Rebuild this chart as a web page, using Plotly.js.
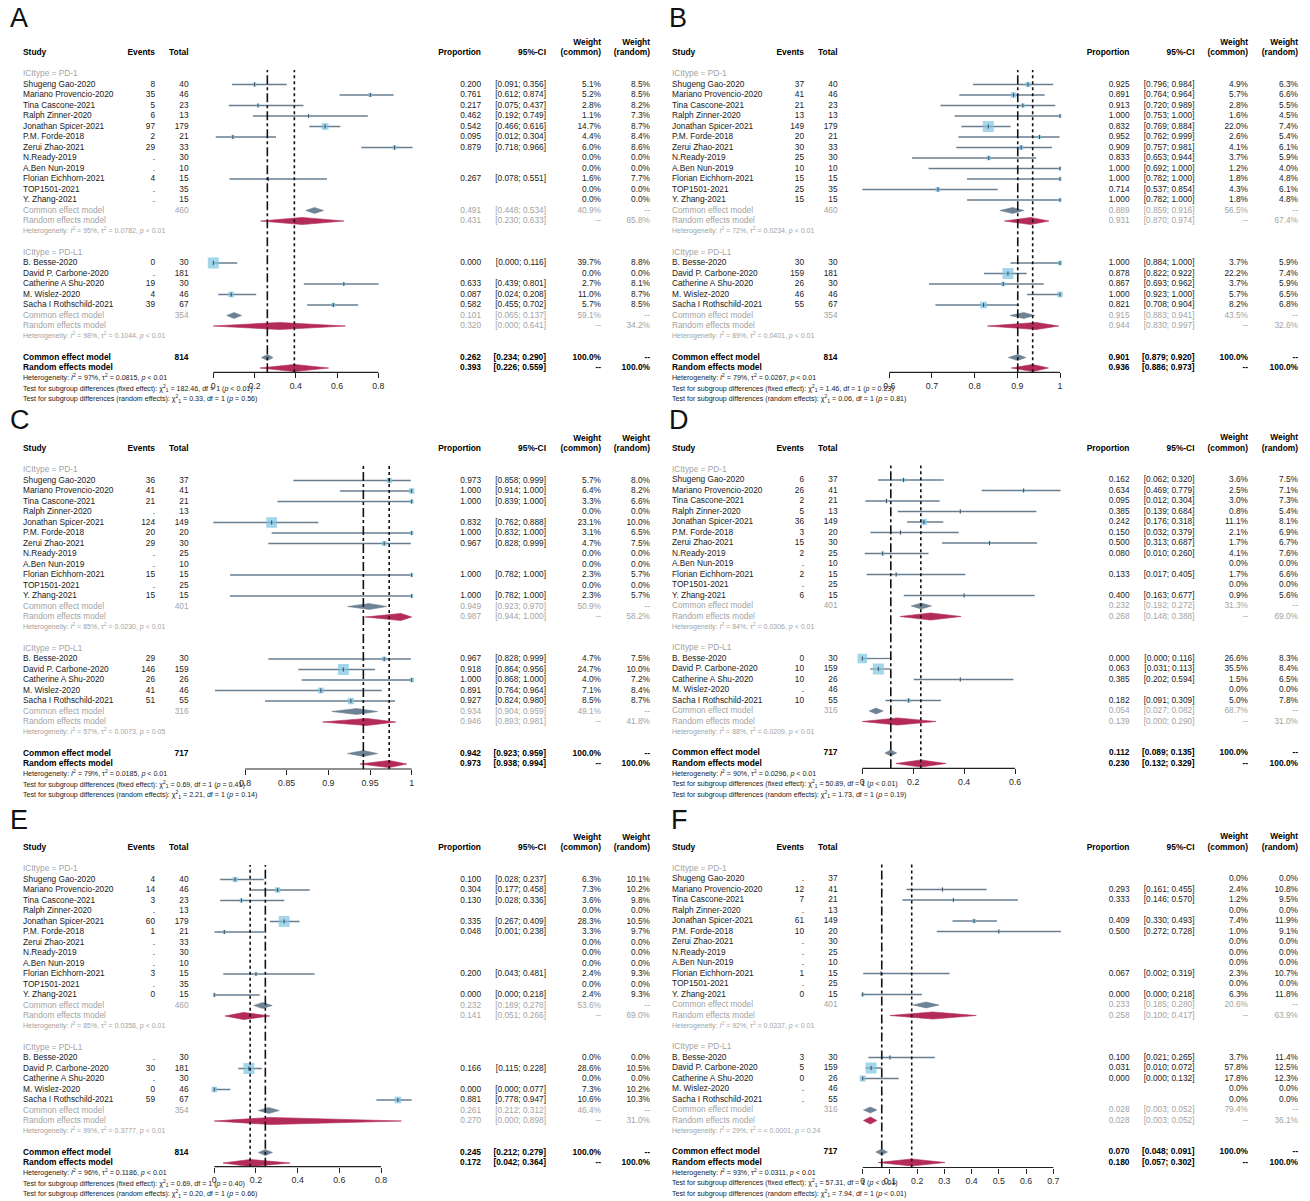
<!DOCTYPE html>
<html>
<head>
<meta charset="utf-8">
<script src="https://cdn.plot.ly/plotly-3.0.1.min.js"></script>
<style>
html, body { margin: 0; padding: 0; background: #ffffff; }
#chart { width: 1310px; height: 1201px; }
</style>
</head>
<body>
<div id="chart"></div>
<script>
// ---------------- data ----------------
const studiesPD1 = ["Shugeng Gao-2020", "Mariano Provencio-2020", "Tina Cascone-2021", "Ralph Zinner-2020",
  "Jonathan Spicer-2021", "P.M. Forde-2018", "Zerui Zhao-2021", "N.Ready-2019", "A.Ben Nun-2019",
  "Florian Eichhorn-2021", "TOP1501-2021", "Y. Zhang-2021"];
const studiesPDL1 = ["B. Besse-2020", "David P. Carbone-2020", "Catherine A Shu-2020", "M. Wislez-2020",
  "Sacha I Rothschild-2021"];
const subgroupLabels = ["ICItype = PD-1", "ICItype = PD-L1"];

const totalsABE = [40, 46, 23, 13, 179, 21, 33, 30, 10, 15, 35, 15, 30, 181, 30, 46, 67];
const totalsCDF = [37, 41, 21, 13, 149, 20, 30, 25, 10, 15, 25, 15, 30, 159, 26, 46, 55];

// pooled arrays: [PD-1 common, PD-1 random, PD-L1 common, PD-L1 random, overall common, overall random]
// heterogeneity arrays: [PD-1, PD-L1, overall]; subgroup tests: [fixed, random]

// Panel A
const eventsA = [8, 35, 5, 6, 97, 2, 29, null, null, 4, null, null, 0, null, 19, 4, 39];
const propA  = [0.200, 0.761, 0.217, 0.462, 0.542, 0.095, 0.879, null, null, 0.267, null, null, 0.000, null, 0.633, 0.087, 0.582];
const lowerA = [0.091, 0.612, 0.075, 0.192, 0.466, 0.012, 0.718, null, null, 0.078, null, null, 0.000, null, 0.439, 0.024, 0.455];
const upperA = [0.356, 0.874, 0.437, 0.749, 0.616, 0.304, 0.966, null, null, 0.551, null, null, 0.116, null, 0.801, 0.208, 0.702];
const wCommonA = [5.1, 5.2, 2.8, 1.1, 14.7, 4.4, 6.0, 0, 0, 1.6, 0, 0, 39.7, 0, 2.7, 11.0, 5.7];
const wRandomA = [8.5, 8.5, 8.2, 7.3, 8.7, 8.4, 8.6, 0, 0, 7.7, 0, 0, 8.8, 0, 8.1, 8.7, 8.5];
const pooledA = [0.491, 0.431, 0.101, 0.320, 0.262, 0.393];
const pooledLowA = [0.448, 0.230, 0.065, 0.000, 0.234, 0.226];
const pooledHighA = [0.534, 0.633, 0.137, 0.641, 0.290, 0.559];
const pooledWeightA = [40.9, 65.8, 59.1, 34.2, 100, 100];
const hetI2A = [95, 98, 97];
const hetTau2A = ["0.0782", "0.1044", "0.0815"];
const hetPA = ["< 0.01", "< 0.01", "< 0.01"];
const chiA = ["182.46", "0.33"];
const chiPA = ["< 0.01", "= 0.56"];

// Panel B
const eventsB = [37, 41, 21, 13, 149, 20, 30, 25, 10, 15, 25, 15, 30, 159, 26, 46, 55];
const propB  = [0.925, 0.891, 0.913, 1.000, 0.832, 0.952, 0.909, 0.833, 1.000, 1.000, 0.714, 1.000, 1.000, 0.878, 0.867, 1.000, 0.821];
const lowerB = [0.796, 0.764, 0.720, 0.753, 0.769, 0.762, 0.757, 0.653, 0.692, 0.782, 0.537, 0.782, 0.884, 0.822, 0.693, 0.923, 0.708];
const upperB = [0.984, 0.964, 0.989, 1.000, 0.884, 0.999, 0.981, 0.944, 1.000, 1.000, 0.854, 1.000, 1.000, 0.922, 0.962, 1.000, 0.904];
const wCommonB = [4.9, 5.7, 2.8, 1.6, 22.0, 2.6, 4.1, 3.7, 1.2, 1.8, 4.3, 1.8, 3.7, 22.2, 3.7, 5.7, 8.2];
const wRandomB = [6.3, 6.6, 5.5, 4.5, 7.4, 5.4, 6.1, 5.9, 4.0, 4.8, 6.1, 4.8, 5.9, 7.4, 5.9, 6.5, 6.8];
const pooledB = [0.889, 0.931, 0.915, 0.944, 0.901, 0.936];
const pooledLowB = [0.859, 0.870, 0.883, 0.830, 0.879, 0.886];
const pooledHighB = [0.916, 0.974, 0.941, 0.997, 0.920, 0.973];
const pooledWeightB = [56.5, 67.4, 43.5, 32.6, 100, 100];
const hetI2B = [72, 89, 79];
const hetTau2B = ["0.0234", "0.0401", "0.0267"];
const hetPB = ["< 0.01", "< 0.01", "< 0.01"];
const chiB = ["1.46", "0.06"];
const chiPB = ["= 0.23", "= 0.81"];

// Panel C
const eventsC = [36, 41, 21, null, 124, 20, 29, null, null, 15, null, 15, 29, 146, 26, 41, 51];
const propC  = [0.973, 1.000, 1.000, null, 0.832, 1.000, 0.967, null, null, 1.000, null, 1.000, 0.967, 0.918, 1.000, 0.891, 0.927];
const lowerC = [0.858, 0.914, 0.839, null, 0.762, 0.832, 0.828, null, null, 0.782, null, 0.782, 0.828, 0.864, 0.868, 0.764, 0.824];
const upperC = [0.999, 1.000, 1.000, null, 0.888, 1.000, 0.999, null, null, 1.000, null, 1.000, 0.999, 0.956, 1.000, 0.964, 0.980];
const wCommonC = [5.7, 6.4, 3.3, 0, 23.1, 3.1, 4.7, 0, 0, 2.3, 0, 2.3, 4.7, 24.7, 4.0, 7.1, 8.5];
const wRandomC = [8.0, 8.2, 6.6, 0, 10.0, 6.5, 7.5, 0, 0, 5.7, 0, 5.7, 7.5, 10.0, 7.2, 8.4, 8.7];
const pooledC = [0.949, 0.987, 0.934, 0.946, 0.942, 0.973];
const pooledLowC = [0.923, 0.944, 0.904, 0.893, 0.923, 0.938];
const pooledHighC = [0.970, 1.000, 0.959, 0.981, 0.959, 0.994];
const pooledWeightC = [50.9, 58.2, 49.1, 41.8, 100, 100];
const hetI2C = [85, 57, 79];
const hetTau2C = ["0.0230", "0.0073", "0.0185"];
const hetPC = ["< 0.01", "= 0.05", "< 0.01"];
const chiC = ["0.69", "2.21"];
const chiPC = ["= 0.41", "= 0.14"];

// Panel D
const eventsD = [6, 26, 2, 5, 36, 3, 15, 2, null, 2, null, 6, 0, 10, 10, null, 10];
const propD  = [0.162, 0.634, 0.095, 0.385, 0.242, 0.150, 0.500, 0.080, null, 0.133, null, 0.400, 0.000, 0.063, 0.385, null, 0.182];
const lowerD = [0.062, 0.469, 0.012, 0.139, 0.176, 0.032, 0.313, 0.010, null, 0.017, null, 0.163, 0.000, 0.031, 0.202, null, 0.091];
const upperD = [0.320, 0.779, 0.304, 0.684, 0.318, 0.379, 0.687, 0.260, null, 0.405, null, 0.677, 0.116, 0.113, 0.594, null, 0.309];
const wCommonD = [3.6, 2.5, 3.0, 0.8, 11.1, 2.1, 1.7, 4.1, 0, 1.7, 0, 0.9, 26.6, 35.5, 1.5, 0, 5.0];
const wRandomD = [7.5, 7.1, 7.3, 5.4, 8.1, 6.9, 6.7, 7.6, 0, 6.6, 0, 5.6, 8.3, 8.4, 6.5, 0, 7.8];
const pooledD = [0.232, 0.268, 0.054, 0.139, 0.112, 0.230];
const pooledLowD = [0.192, 0.148, 0.027, 0.000, 0.089, 0.132];
const pooledHighD = [0.272, 0.388, 0.082, 0.290, 0.135, 0.329];
const pooledWeightD = [31.3, 69.0, 68.7, 31.0, 100, 100];
const hetI2D = [84, 88, 90];
const hetTau2D = ["0.0306", "0.0209", "0.0296"];
const hetPD = ["< 0.01", "< 0.01", "< 0.01"];
const chiD = ["50.89", "1.73"];
const chiPD = ["< 0.01", "= 0.19"];

// Panel E
const eventsE = [4, 14, 3, null, 60, 1, null, null, null, 3, null, 0, null, 30, null, 0, 59];
const propE  = [0.100, 0.304, 0.130, null, 0.335, 0.048, null, null, null, 0.200, null, 0.000, null, 0.166, null, 0.000, 0.881];
const lowerE = [0.028, 0.177, 0.028, null, 0.267, 0.001, null, null, null, 0.043, null, 0.000, null, 0.115, null, 0.000, 0.778];
const upperE = [0.237, 0.458, 0.336, null, 0.409, 0.238, null, null, null, 0.481, null, 0.218, null, 0.228, null, 0.077, 0.947];
const wCommonE = [6.3, 7.3, 3.6, 0, 28.3, 3.3, 0, 0, 0, 2.4, 0, 2.4, 0, 28.6, 0, 7.3, 10.6];
const wRandomE = [10.1, 10.2, 9.8, 0, 10.5, 9.7, 0, 0, 0, 9.3, 0, 9.3, 0, 10.5, 0, 10.2, 10.3];
const pooledE = [0.232, 0.141, 0.261, 0.270, 0.245, 0.172];
const pooledLowE = [0.189, 0.051, 0.212, 0.000, 0.212, 0.042];
const pooledHighE = [0.278, 0.266, 0.312, 0.898, 0.279, 0.364];
const pooledWeightE = [53.6, 69.0, 46.4, 31.0, 100, 100];
const hetI2E = [85, 99, 96];
const hetTau2E = ["0.0358", "0.3777", "0.1186"];
const hetPE = ["< 0.01", "< 0.01", "< 0.01"];
const chiE = ["0.69", "0.20"];
const chiPE = ["= 0.40", "= 0.66"];

// Panel F
const eventsF = [null, 12, 7, null, 61, 10, null, null, null, 1, null, 0, 3, 5, 0, null, null];
const propF  = [null, 0.293, 0.333, null, 0.409, 0.500, null, null, null, 0.067, null, 0.000, 0.100, 0.031, 0.000, null, null];
const lowerF = [null, 0.161, 0.146, null, 0.330, 0.272, null, null, null, 0.002, null, 0.000, 0.021, 0.010, 0.000, null, null];
const upperF = [null, 0.455, 0.570, null, 0.493, 0.728, null, null, null, 0.319, null, 0.218, 0.265, 0.072, 0.132, null, null];
const wCommonF = [0, 2.4, 1.2, 0, 7.4, 1.0, 0, 0, 0, 2.3, 0, 6.3, 3.7, 57.8, 17.8, 0, 0];
const wRandomF = [0, 10.8, 9.5, 0, 11.9, 9.1, 0, 0, 0, 10.7, 0, 11.8, 11.4, 12.5, 12.3, 0, 0];
const pooledF = [0.233, 0.258, 0.028, 0.028, 0.070, 0.180];
const pooledLowF = [0.185, 0.100, 0.003, 0.003, 0.048, 0.057];
const pooledHighF = [0.280, 0.417, 0.052, 0.052, 0.091, 0.302];
const pooledWeightF = [20.6, 63.9, 79.4, 36.1, 100, 100];
const hetI2F = [92, 29, 93];
const hetTau2F = ["0.0337", "< 0.0001", "0.0311"];
const hetPF = ["< 0.01", "= 0.24", "< 0.01"];
const chiF = ["57.31", "7.94"];
const chiPF = ["< 0.01", "< 0.01"];

// axis ticks
const ticksA = [0, 0.2, 0.4, 0.6, 0.8];          const tickLabelsA = ["0", "0.2", "0.4", "0.6", "0.8"];
const ticksB = [0.6, 0.7, 0.8, 0.9, 1];          const tickLabelsB = ["0.6", "0.7", "0.8", "0.9", "1"];
const ticksC = [0.8, 0.85, 0.9, 0.95, 1];        const tickLabelsC = ["0.8", "0.85", "0.9", "0.95", "1"];
const ticksD = [0, 0.2, 0.4, 0.6];               const tickLabelsD = ["0", "0.2", "0.4", "0.6"];
const ticksE = [0, 0.2, 0.4, 0.6, 0.8];          const tickLabelsE = ["0", "0.2", "0.4", "0.6", "0.8"];
const ticksF = [0, 0.1, 0.2, 0.3, 0.4, 0.5, 0.6, 0.7];
const tickLabelsF = ["0", "0.1", "0.2", "0.3", "0.4", "0.5", "0.6", "0.7"];

// ---------------- layout settings ----------------
const W = 1310, H = 1201, ROW = 10.5;
const FONT = "Liberation Sans, Arial, Helvetica, sans-serif";
const COLORS = {
  text: "#1a1a1a", gray: "#a3a3a3", ci: "#687e90", square: "#7cc4e2", tick: "#3a4a58",
  common: "#6d8294", random: "#b42a5b", axis: "#222222"
};
const COLS_L = { study: 23, events: 155, total: 188.5, prop: 481, ci: 546, wc: 601, wr: 650 };
const COLS_R = { study: 672, events: 804, total: 837.5, prop: 1129.5, ci: 1194.5, wc: 1248, wr: 1298 };

const panels = [
  { letter: "A", letterPos: [10, 20], row0: 74, axisY: 372.3, plotPx: [200, 422], tickPx: [213.3, 378.3], cols: COLS_L,
    totals: totalsABE, events: eventsA, prop: propA, lower: lowerA, upper: upperA, wc: wCommonA, wr: wRandomA,
    pooled: pooledA, pLow: pooledLowA, pHigh: pooledHighA, pW: pooledWeightA,
    i2: hetI2A, tau2: hetTau2A, hp: hetPA, chi: chiA, chiP: chiPA, ticks: ticksA, tickLabels: tickLabelsA },
  { letter: "B", letterPos: [669, 20], row0: 74, axisY: 372.3, plotPx: [852, 1066], tickPx: [889.3, 1060], cols: COLS_R,
    totals: totalsABE, events: eventsB, prop: propB, lower: lowerB, upper: upperB, wc: wCommonB, wr: wRandomB,
    pooled: pooledB, pLow: pooledLowB, pHigh: pooledHighB, pW: pooledWeightB,
    i2: hetI2B, tau2: hetTau2B, hp: hetPB, chi: chiB, chiP: chiPB, ticks: ticksB, tickLabels: tickLabelsB },
  { letter: "C", letterPos: [10, 422], row0: 470, axisY: 769, plotPx: [200, 422], tickPx: [245, 411.7], cols: COLS_L,
    totals: totalsCDF, events: eventsC, prop: propC, lower: lowerC, upper: upperC, wc: wCommonC, wr: wRandomC,
    pooled: pooledC, pLow: pooledLowC, pHigh: pooledHighC, pW: pooledWeightC,
    i2: hetI2C, tau2: hetTau2C, hp: hetPC, chi: chiC, chiP: chiPC, ticks: ticksC, tickLabels: tickLabelsC },
  { letter: "D", letterPos: [669, 422], row0: 469.5, axisY: 768.3, plotPx: [852, 1066], tickPx: [862.3, 1015], cols: COLS_R,
    totals: totalsCDF, events: eventsD, prop: propD, lower: lowerD, upper: upperD, wc: wCommonD, wr: wRandomD,
    pooled: pooledD, pLow: pooledLowD, pHigh: pooledHighD, pW: pooledWeightD,
    i2: hetI2D, tau2: hetTau2D, hp: hetPD, chi: chiD, chiP: chiPD, ticks: ticksD, tickLabels: tickLabelsD },
  { letter: "E", letterPos: [10, 822], row0: 869, axisY: 1166.7, plotPx: [200, 422], tickPx: [214.3, 381], cols: COLS_L,
    totals: totalsABE, events: eventsE, prop: propE, lower: lowerE, upper: upperE, wc: wCommonE, wr: wRandomE,
    pooled: pooledE, pLow: pooledLowE, pHigh: pooledHighE, pW: pooledWeightE,
    i2: hetI2E, tau2: hetTau2E, hp: hetPE, chi: chiE, chiP: chiPE, ticks: ticksE, tickLabels: tickLabelsE },
  { letter: "F", letterPos: [671, 822], row0: 868.5, axisY: 1167.5, plotPx: [852, 1066], tickPx: [862.7, 1053.3], cols: COLS_R,
    totals: totalsCDF, events: eventsF, prop: propF, lower: lowerF, upper: upperF, wc: wCommonF, wr: wRandomF,
    pooled: pooledF, pLow: pooledLowF, pHigh: pooledHighF, pW: pooledWeightF,
    i2: hetI2F, tau2: hetTau2F, hp: hetPF, chi: chiF, chiP: chiPF, ticks: ticksF, tickLabels: tickLabelsF }
];

// row index of every study (PD-1 rows 1..12, PD-L1 rows 18..22)
const studyRows = studiesPD1.map((_, i) => 1 + i).concat(studiesPDL1.map((_, i) => 18 + i));
const studyNames = studiesPD1.concat(studiesPDL1);
const pooledRows = [13, 14, 23, 24, 27, 28];

const fmt3 = v => v.toFixed(3);
const pct = v => v.toFixed(1) + "%";
const ciText = (lo, hi) => "[" + fmt3(lo) + "; " + fmt3(hi) + "]";
const hetText = (i2, tau2, p) =>
  "Heterogeneity: <i>I</i><sup>2</sup> = " + i2 + "%, τ<sup>2</sup> = " + tau2 + ", <i>p</i> " + p;
const testText = (kind, chi, p) =>
  "Test for subgroup differences (" + kind + "): χ<sup>2</sup><sub>1</sub> = " + chi + ", df = 1 (<i>p</i> " + p + ")";

// ---------------- text items ----------------
const textItems = [];
function addText(x, y, text, style, align) { textItems.push({ x, y, text, style, align }); }

const traces = [];
const shapes = [];
const layout = {
  width: W, height: H, autosize: false,
  margin: { l: 0, r: 0, t: 0, b: 0, pad: 0 },
  paper_bgcolor: "#ffffff", plot_bgcolor: "rgba(0,0,0,0)",
  showlegend: false, hovermode: false,
  font: { family: FONT, color: COLORS.text }
};

panels.forEach((p, k) => {
  const n = k + 1;
  const xa = "x" + n, ya = "y" + n;
  const rowY = r => p.row0 + r * ROW;
  const c = p.cols;

  // --- header ---
  addText(c.study, rowY(-2), "Study", "bold", "left");
  addText(c.events, rowY(-2), "Events", "bold", "right");
  addText(c.total, rowY(-2), "Total", "bold", "right");
  addText(c.prop, rowY(-2), "Proportion", "bold", "right");
  addText(c.ci, rowY(-2), "95%-CI", "bold", "right");
  addText(c.wc, rowY(-3), "Weight", "bold", "right");
  addText(c.wr, rowY(-3), "Weight", "bold", "right");
  addText(c.wc, rowY(-2), "(common)", "bold", "right");
  addText(c.wr, rowY(-2), "(random)", "bold", "right");
  addText(p.letterPos[0], p.letterPos[1], p.letter, "letter", "left");

  // --- study rows ---
  studyNames.forEach((name, i) => {
    const y = rowY(studyRows[i]);
    addText(c.study, y, name, "main", "left");
    addText(c.events, y, p.events[i] === null ? "." : String(p.events[i]), "main", "right");
    addText(c.total, y, String(p.totals[i]), "main", "right");
    if (p.prop[i] !== null) {
      addText(c.prop, y, fmt3(p.prop[i]), "main", "right");
      addText(c.ci, y, ciText(p.lower[i], p.upper[i]), "main", "right");
    }
    addText(c.wc, y, pct(p.wc[i]), "main", "right");
    addText(c.wr, y, pct(p.wr[i]), "main", "right");
  });

  // --- subgroup blocks ---
  const groupTotals = [
    p.totals.slice(0, 12).reduce((a, b) => a + b, 0),
    p.totals.slice(12).reduce((a, b) => a + b, 0)
  ];
  [0, 1].forEach(g => {
    const base = g === 0 ? 0 : 17;
    addText(c.study, rowY(base), subgroupLabels[g], "gray", "left");
    const ic = 2 * g, ir = 2 * g + 1;
    const yc = rowY(pooledRows[ic]), yr = rowY(pooledRows[ir]);
    addText(c.study, yc, "Common effect model", "gray", "left");
    addText(c.total, yc, String(groupTotals[g]), "gray", "right");
    addText(c.prop, yc, fmt3(p.pooled[ic]), "gray", "right");
    addText(c.ci, yc, ciText(p.pLow[ic], p.pHigh[ic]), "gray", "right");
    addText(c.wc, yc, pct(p.pW[ic]), "gray", "right");
    addText(c.wr, yc, "--", "gray", "right");
    addText(c.study, yr, "Random effects model", "gray", "left");
    addText(c.prop, yr, fmt3(p.pooled[ir]), "gray", "right");
    addText(c.ci, yr, ciText(p.pLow[ir], p.pHigh[ir]), "gray", "right");
    addText(c.wc, yr, "--", "gray", "right");
    addText(c.wr, yr, pct(p.pW[ir]), "gray", "right");
    addText(c.study, rowY(pooledRows[ir] + 1), hetText(p.i2[g], p.tau2[g], p.hp[g]), "smallGray", "left");
  });

  // --- overall ---
  const yo1 = rowY(27), yo2 = rowY(28);
  addText(c.study, yo1, "Common effect model", "bold", "left");
  addText(c.total, yo1, String(groupTotals[0] + groupTotals[1]), "bold", "right");
  addText(c.prop, yo1, fmt3(p.pooled[4]), "bold", "right");
  addText(c.ci, yo1, ciText(p.pLow[4], p.pHigh[4]), "bold", "right");
  addText(c.wc, yo1, pct(p.pW[4]), "bold", "right");
  addText(c.wr, yo1, "--", "bold", "right");
  addText(c.study, yo2, "Random effects model", "bold", "left");
  addText(c.prop, yo2, fmt3(p.pooled[5]), "bold", "right");
  addText(c.ci, yo2, ciText(p.pLow[5], p.pHigh[5]), "bold", "right");
  addText(c.wc, yo2, "--", "bold", "right");
  addText(c.wr, yo2, pct(p.pW[5]), "bold", "right");
  addText(c.study, rowY(29), hetText(p.i2[2], p.tau2[2], p.hp[2]), "small", "left");
  addText(c.study, rowY(30), testText("fixed effect", p.chi[0], p.chiP[0]), "small", "left");
  addText(c.study, rowY(31), testText("random effects", p.chi[1], p.chiP[1]), "small", "left");

  // --- forest axes ---
  const t0 = p.ticks[0], t1 = p.ticks[p.ticks.length - 1];
  const scale = (p.tickPx[1] - p.tickPx[0]) / (t1 - t0);
  const xRange = [t0 + (p.plotPx[0] - p.tickPx[0]) / scale, t0 + (p.plotPx[1] - p.tickPx[0]) / scale];
  const topPx = p.row0 - 4;
  layout["xaxis" + (n === 1 ? "" : n)] = {
    domain: [p.plotPx[0] / W, p.plotPx[1] / W], range: xRange, anchor: ya,
    showline: false, showgrid: false, zeroline: false,
    ticks: "outside", ticklen: 5, tickwidth: 1, tickcolor: COLORS.axis,
    tickmode: "array", tickvals: p.ticks, ticktext: p.tickLabels,
    tickfont: { family: FONT, size: 8.8, color: "#2a2a2a" }, fixedrange: true
  };
  layout["yaxis" + (n === 1 ? "" : n)] = {
    domain: [1 - p.axisY / H, 1 - topPx / H],
    range: [(p.axisY - p.row0) / ROW, (topPx - p.row0) / ROW], anchor: xa,
    visible: false, showgrid: false, zeroline: false, fixedrange: true
  };

  // axis line spans the tick range only
  shapes.push({ type: "line", xref: xa, yref: ya + " domain", x0: t0, x1: t1, y0: 0, y1: 0,
    line: { color: COLORS.axis, width: 1.2 } });
  // reference lines at the overall estimates
  shapes.push({ type: "line", xref: xa, yref: ya + " domain", x0: p.pooled[4], x1: p.pooled[4], y0: 0, y1: 1,
    line: { color: "#111111", width: 1.6, dash: "dashdot" } });
  shapes.push({ type: "line", xref: xa, yref: ya + " domain", x0: p.pooled[5], x1: p.pooled[5], y0: 0, y1: 1,
    line: { color: "#111111", width: 1.6, dash: "dot" } });

  // confidence intervals of studies
  const ciX = [], ciY = [];
  const sqX = [], sqY = [], sqS = [];
  const maxW = Math.max(...p.wc);
  p.prop.forEach((v, i) => {
    if (v === null) return;
    ciX.push(p.lower[i], p.upper[i], null);
    ciY.push(studyRows[i], studyRows[i], null);
    sqX.push(v); sqY.push(studyRows[i]);
    sqS.push(Math.max(2, 11 * Math.sqrt(p.wc[i] / maxW)));
  });
  traces.push({ type: "scatter", mode: "lines", xaxis: xa, yaxis: ya, x: ciX, y: ciY,
    line: { color: COLORS.ci, width: 1.3 }, cliponaxis: false, hoverinfo: "skip" });
  traces.push({ type: "scatter", mode: "markers", xaxis: xa, yaxis: ya, x: sqX, y: sqY,
    marker: { symbol: "square", size: sqS, color: COLORS.square, line: { width: 0 } },
    cliponaxis: false, hoverinfo: "skip" });
  traces.push({ type: "scatter", mode: "markers", xaxis: xa, yaxis: ya, x: sqX, y: sqY,
    marker: { symbol: "line-ns-open", size: 3, color: COLORS.tick, line: { color: COLORS.tick, width: 1 } },
    cliponaxis: false, hoverinfo: "skip" });

  // pooled diamonds
  pooledRows.forEach((r, j) => {
    const isRandom = j % 2 === 1;
    const h = isRandom ? 0.34 : 0.28;
    traces.push({ type: "scatter", mode: "lines", xaxis: xa, yaxis: ya, fill: "toself",
      x: [p.pLow[j], p.pooled[j], p.pHigh[j], p.pooled[j], p.pLow[j]],
      y: [r, r - h, r, r + h, r],
      fillcolor: isRandom ? COLORS.random : COLORS.common,
      line: { color: isRandom ? COLORS.random : COLORS.common, width: 0.6 },
      cliponaxis: false, hoverinfo: "skip" });
  });
});

// ---------------- text layer (page coordinates) ----------------
layout.xaxis7 = { domain: [0, 1], range: [0, W], anchor: "y7", visible: false, fixedrange: true };
layout.yaxis7 = { domain: [0, 1], range: [H, 0], anchor: "x7", visible: false, fixedrange: true };

const STYLES = {
  main:      { size: 8.3, color: COLORS.text, bold: false },
  bold:      { size: 8.4, color: "#000000", bold: true },
  gray:      { size: 8.3, color: COLORS.gray, bold: false },
  smallGray: { size: 7.0, color: COLORS.gray, bold: false },
  small:     { size: 7.1, color: COLORS.text, bold: false },
  letter:    { size: 27, color: "#111111", bold: false }
};
Object.keys(STYLES).forEach(s => {
  ["left", "right"].forEach(al => {
    const items = textItems.filter(t => t.style === s && t.align === al);
    if (!items.length) return;
    const st = STYLES[s];
    traces.push({
      type: "scatter", mode: "text", xaxis: "x7", yaxis: "y7",
      x: items.map(t => t.x), y: items.map(t => t.y),
      text: items.map(t => st.bold ? "<b>" + t.text + "</b>" : t.text),
      textposition: al === "left" ? "middle right" : "middle left",
      textfont: { family: FONT, size: st.size, color: st.color },
      cliponaxis: false, hoverinfo: "skip"
    });
  });
});

layout.shapes = shapes;
Plotly.newPlot("chart", traces, layout, { staticPlot: true, displayModeBar: false });
</script>
</body>
</html>
